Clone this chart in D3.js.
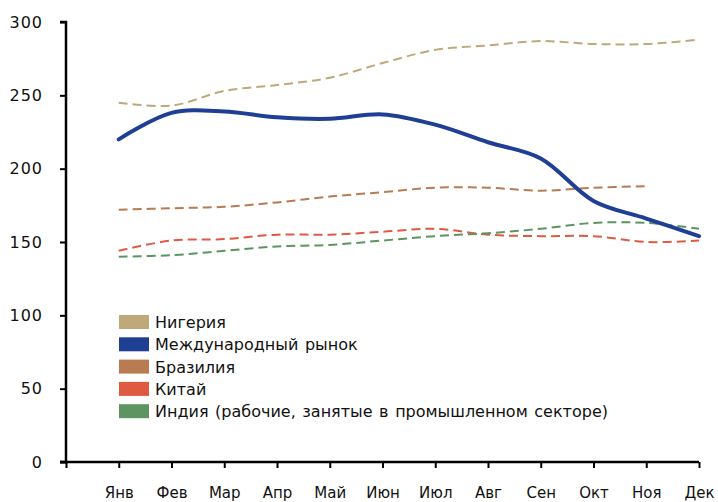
<!DOCTYPE html>
<html lang="ru">
    <head>
        <meta charset="utf-8">
        <title>Chart</title>
        <script src="https://d3js.org/d3.v7.min.js"></script>
    </head>

    <style type="text/css">
        body {
            margin: 0;
            background: #fff;
        }

        svg text {
            font-family: "DejaVu Sans", Verdana, sans-serif;
            fill: #111;
        }

        .axis path, .axis line {
            stroke: #000;
        }
    </style>

    <body>
        <div class="chart"></div>
        <script type="text/javascript">
            // data
            var months = ["Янв", "Фев", "Мар", "Апр", "Май", "Июн", "Июл", "Авг", "Сен", "Окт", "Ноя", "Дек"];
            var nigeria = [245, 243, 253, 257, 262, 272, 281, 284, 287, 285, 285, 288];
            var intlMarket = [220, 238, 239, 235, 234, 237, 230, 218, 207, 178, 166, 154];
            var brazil = [172, 173, 174, 177, 181, 184, 187, 187, 185, 187, 188, null];
            var china = [144, 151, 152, 155, 155, 157, 159, 155, 154, 154, 150, 151];
            var india = [140, 141, 144, 147, 148, 151, 154, 156, 159, 163, 163, 159];
            var yTicks = [0, 50, 100, 150, 200, 250, 300];

            var series = [
                {name: "Нигерия", values: nigeria, color: "#bfa879", width: 2, dash: "9,5"},
                {name: "Международный рынок", values: intlMarket, color: "#1f3f95", width: 4, dash: null},
                {name: "Бразилия", values: brazil, color: "#b87b52", width: 2, dash: "9,5"},
                {name: "Китай", values: china, color: "#df5a41", width: 2, dash: "9,5"},
                {name: "Индия (рабочие, занятые в промышленном секторе)", values: india, color: "#5c9462", width: 2, dash: "9,5"}
            ];

            var width = 718, height = 502;

            var canvas = d3.select(".chart")
                .append("svg")
                .attr("width", width)
                .attr("height", height);

            // scales
            var xScale = d3.scaleLinear()
                .domain([0, 12])
                .range([66, 699]);

            var yScale = d3.scaleLinear()
                .domain([0, 300])
                .range([462, 22]);

            // y axis
            var yAxis = d3.axisLeft(yScale)
                .tickValues(yTicks)
                .tickSize(6)
                .tickPadding(17);
            var yG = canvas.append("g")
                .attr("class", "axis")
                .attr("transform", "translate(66,0)")
                .call(yAxis);
            yG.select(".domain").attr("stroke-width", 2.5).attr("d", "M-6,22H0V462H-6");
            yG.selectAll(".tick line").attr("stroke-width", 2);
            yG.selectAll(".tick text")
                .style("font-size", "16px")
                .style("letter-spacing", "1px");

            // x axis (ticks at month positions)
            var xAxis = d3.axisBottom(xScale)
                .tickValues(d3.range(0, 13))
                .tickSize(6)
                .tickFormat(function(d) { return d > 0 ? months[d - 1] : ""; })
                .tickPadding(19);
            var xG = canvas.append("g")
                .attr("class", "axis")
                .attr("transform", "translate(0,462)")
                .call(xAxis);
            xG.select(".domain").attr("stroke-width", 2.5).attr("d", "M60,0H699");
            xG.selectAll(".tick line").attr("stroke-width", 2);
            xG.selectAll(".tick text").style("font-size", "15px");

            // lines
            var line = d3.line()
                .defined(function(d) { return d != null; })
                .x(function(d, i) { return xScale(i + 1); })
                .y(function(d) { return yScale(d); })
                .curve(d3.curveCatmullRom.alpha(0.5));

            // draw thin lines first, blue on top
            var order = [0, 2, 3, 4, 1];
            order.forEach(function(k) {
                var s = series[k];
                canvas.append("path")
                    .datum(s.values)
                    .attr("fill", "none")
                    .attr("stroke", s.color)
                    .attr("stroke-width", s.width)
                    .attr("stroke-dasharray", s.dash)
                    .attr("stroke-linecap", s.dash ? "butt" : "round")
                    .attr("d", line);
            });

            // legend
            var legend = canvas.append("g")
                .attr("transform", "translate(119,315)");
            var rows = legend.selectAll("g")
                .data(series)
                .enter()
                .append("g")
                .attr("transform", function(d, i) { return "translate(0," + (i * 22.3) + ")"; });
            rows.append("rect")
                .attr("width", 30)
                .attr("height", 14)
                .attr("fill", function(d) { return d.color; });
            rows.append("text")
                .attr("x", 36)
                .attr("y", 13)
                .style("font-size", "16px")
                .style("word-spacing", "1.5px")
                .text(function(d) { return d.name; });
        </script>
    </body>
</html>
